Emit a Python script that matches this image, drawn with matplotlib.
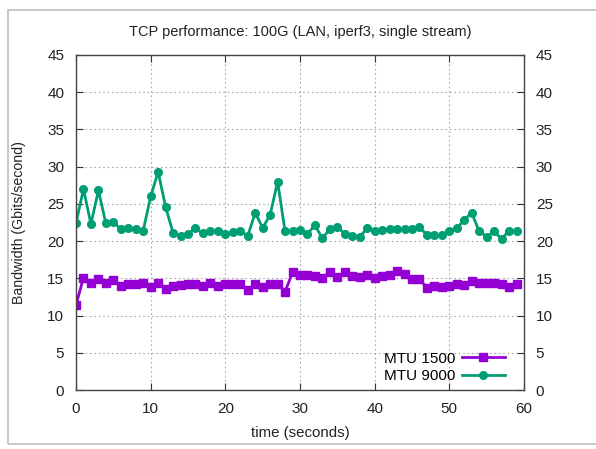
import matplotlib
matplotlib.use("Agg")
import matplotlib.pyplot as plt
from matplotlib.patches import Rectangle

plt.rcParams['font.family'] = ['Liberation Sans', 'DejaVu Sans']

seconds = list(range(60))
mtu1500 = [11.4, 15.1, 14.4, 14.9, 14.4, 14.8, 14.0, 14.2, 14.3, 14.4,
           13.8, 14.4, 13.6, 14.0, 14.1, 14.3, 14.2, 14.0, 14.4, 14.0,
           14.2, 14.3, 14.3, 13.4, 14.2, 13.9, 14.2, 14.3, 13.2, 15.8,
           15.5, 15.5, 15.3, 15.1, 15.8, 15.2, 15.8, 15.3, 15.2, 15.4,
           15.1, 15.3, 15.5, 16.0, 15.6, 14.9, 14.9, 13.7, 14.0, 13.9,
           14.0, 14.3, 14.1, 14.7, 14.4, 14.4, 14.4, 14.3, 13.8, 14.3]
mtu9000 = [22.4, 27.0, 22.3, 26.8, 22.4, 22.6, 21.6, 21.8, 21.6, 21.4,
           26.0, 29.3, 24.6, 21.1, 20.7, 21.0, 21.7, 21.1, 21.3, 21.4,
           21.0, 21.2, 21.4, 20.7, 23.8, 21.8, 23.5, 28.0, 21.3, 21.4,
           21.5, 21.0, 22.1, 20.4, 21.6, 21.9, 21.0, 20.7, 20.6, 21.7,
           21.4, 21.5, 21.6, 21.6, 21.6, 21.6, 21.9, 20.8, 20.8, 20.8,
           21.4, 21.7, 22.9, 23.8, 21.3, 20.6, 21.3, 20.3, 21.4, 21.3]
labels = ["MTU 1500", "MTU 9000"]
colors = ["#9400D3", "#009E73"]
title = "TCP performance: 100G (LAN, iperf3, single stream)"
xticks = [0, 10, 20, 30, 40, 50, 60]
yticks = [0, 5, 10, 15, 20, 25, 30, 35, 40, 45]

fig = plt.figure(figsize=(5.96, 4.49), dpi=100)

# screenshot card border
fig.patches.append(Rectangle((8/596, 5/449), 600/596, 434/449,
                             transform=fig.transFigure, fill=False,
                             edgecolor="#bdbdbd", linewidth=1.2))

ax = fig.add_axes([76/596, 59/449, 448/596, 335/449])

ax.plot(seconds, mtu1500, color=colors[0], lw=2, marker='s', ms=6,
        label=labels[0])
ax.plot(seconds, mtu9000, color=colors[1], lw=2, marker='o', ms=5.5,
        label=labels[1])

ax.set_xlim(0, 60)
ax.set_ylim(0, 45)
ax.set_xticks(xticks)
ax.set_yticks(yticks)
ax.tick_params(direction='in', length=5, width=0.8, colors='#333333',
               labelcolor='#222222', labelsize=11, top=True, right=True,
               labelright=True, pad=8.5)
for s in ax.spines.values():
    s.set_color('#444444')
    s.set_linewidth(1)
ax.grid(True, linestyle=(0, (1.5, 2.5)), color='#aaaaaa', linewidth=0.8)

ax.set_title(title, fontsize=10.5, color='#222222', pad=14)
ax.set_xlabel("time (seconds)", fontsize=10.8, color='#222222', labelpad=7)
ax.set_ylabel("Bandwidth (Gbits/second)", fontsize=10.2, color='#222222',
              labelpad=15)

leg = ax.legend(loc='lower right', markerfirst=False, frameon=False,
                fontsize=11, handlelength=2.8, bbox_to_anchor=(0.981, -0.012),
                labelspacing=0.25, borderaxespad=0.3, handletextpad=0.45)

fig.savefig("out.png", dpi=100)
